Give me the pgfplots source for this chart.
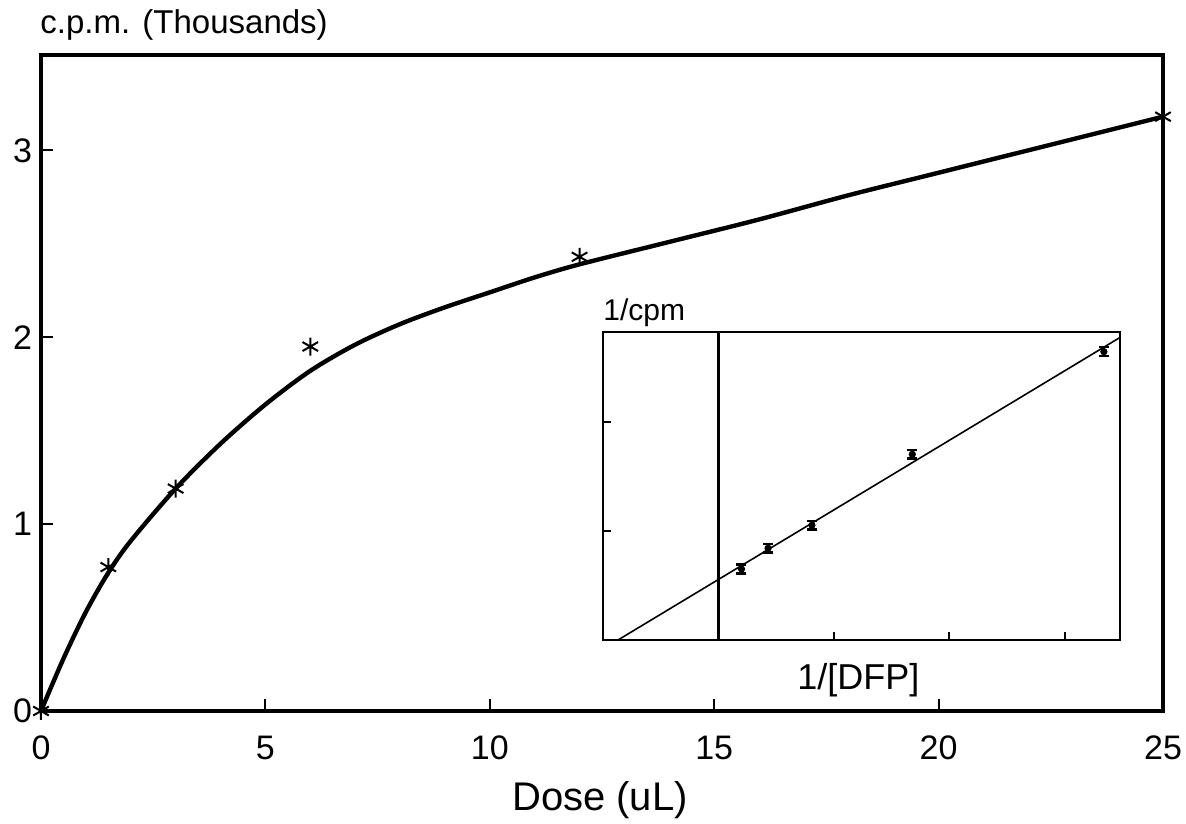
\documentclass[border=0pt]{standalone}
\usepackage{pgfplots}
\pgfplotsset{compat=1.18}
\usepackage{fontspec}
\setmainfont{Liberation Sans}
\begin{document}
\begin{tikzpicture}
\useasboundingbox (-20.5pt,-56pt) rectangle (572.5pt,355.5pt);
\begin{axis}[
  name=main,
  scale only axis,
  width=561pt, height=328pt,
  xmin=0, xmax=25, ymin=0, ymax=3.51,
  axis line style={line width=2pt},
  xtick={0,5,10,15,20,25},
  ytick={0,1,2,3},
  tick align=inside,
  xtick pos=bottom, ytick pos=left,
  major tick length=6pt,
  tick style={line width=1pt, black},
  /pgf/number format/assume math mode=true,
  ticklabel style={font=\fontsize{17}{19}\selectfont},
  xticklabel style={yshift=-9pt},
  yticklabel style={xshift=-1pt},
  clip=false,
]
\addplot[line width=2.2pt, smooth, tension=0.5] coordinates {
(0,0) (0.5,0.28) (1,0.53) (1.5,0.74) (2,0.91) (3,1.19) (4,1.43) (5,1.64)
(6,1.82) (7,1.96) (8,2.07) (9,2.16) (10,2.24) (11,2.32) (12,2.39)
(14,2.51) (16,2.63) (18,2.76) (20,2.88) (22,3.00) (25,3.18)};
\addplot[only marks, mark=asterisk, mark size=4.5pt, mark options={line width=1pt}] coordinates {
(0,0) (1.5,0.77) (3,1.19) (6,1.95) (12,2.43) (25,3.18)};
\end{axis}
\begin{axis}[
  at={(281pt,35.5pt)}, anchor=south west,
  scale only axis,
  width=258.5pt, height=154pt,
  xmin=-1, xmax=3.48, ymin=0, ymax=2.82,
  axis background/.style={fill=white},
  axis line style={line width=1pt},
  xtick={1,2,3}, ytick={1,2},
  xticklabels={}, yticklabels={},
  tick align=inside,
  xtick pos=bottom, ytick pos=left,
  major tick length=4pt,
  tick style={line width=1pt, black},
  clip=false,
]
\addplot[line width=1.5pt] coordinates {(0,0) (0,2.82)};
\addplot[line width=0.8pt] coordinates {(-0.87,0) (3.48,2.77)};
\addplot[only marks, mark=*, mark size=1.6pt,
  error bars/.cd, y dir=both, y explicit,
  error bar style={line width=1.2pt},
  error mark options={rotate=90, mark size=2.5pt, line width=1.2pt}]
  coordinates {
  (0.2,0.65) +- (0,0.04)
  (0.43,0.84) +- (0,0.04)
  (0.81,1.05) +- (0,0.04)
  (1.68,1.70) +- (0,0.04)
  (3.34,2.64) +- (0,0.04)};
\end{axis}
\node[anchor=west, inner sep=0pt, font=\fontsize{16.5}{18}\selectfont] at (-0.5pt,343pt) {c.p.m. (Thousands)};
\node[anchor=center, inner sep=0pt, font=\fontsize{20}{22}\selectfont] at (279.5pt,-44.5pt) {Dose (uL)};
\node[anchor=west, inner sep=0pt, font=\fontsize{15}{17}\selectfont] at (281pt,199pt) {1/cpm};
\node[anchor=west, inner sep=0pt, font=\fontsize{18}{20}\selectfont] at (378pt,15.5pt) {1/[DFP]};
\end{tikzpicture}
\end{document}
